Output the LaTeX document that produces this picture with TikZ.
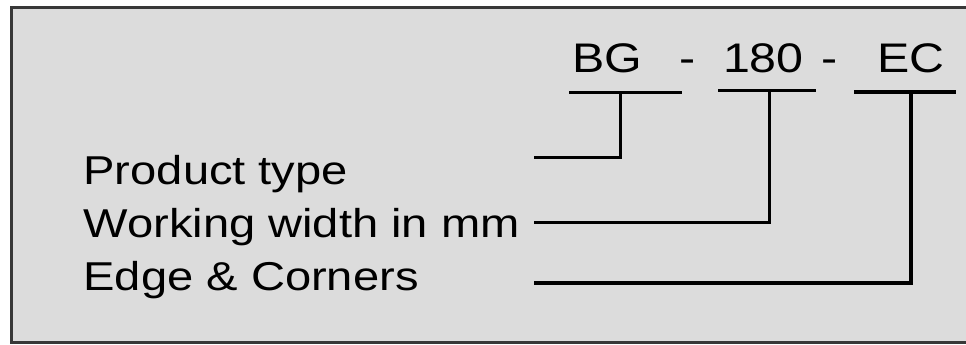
\documentclass[tikz,border=0pt]{standalone}
\usepackage{fontspec}
\setmainfont{Liberation Sans}[FakeStretch=1.17]

\begin{document}
\begin{tikzpicture}[x=0.75pt, y=-0.75pt, font=\fontsize{30.2}{36}\selectfont]
  \definecolor{panel}{HTML}{DCDCDC}
  \definecolor{rim}{HTML}{383838}
  \def\codes{
      bg/BG/572/569/682/93/620/158/2.25pt,
      mm/180/723/718/816/91/769/223/2.25pt,
      ec/EC/877/854/956/92/911/283/3pt
  }
  \useasboundingbox (0, 0) rectangle (966, 345);
  \fill [panel] (11.3, 7.3) rectangle (985, 342.5);
  \draw [rim, line width=2.1pt] (985, 7.3) -- (11.3, 7.3) -- (11.3, 342.5) -- (985, 342.5);

  \scoped [every node/.style={inner sep=0pt, outer sep=0pt, anchor=base west}] {
      \foreach \n/\t/\x/\l/\r/\u/\v/\e/\w in \codes {
          \node (\n) at (\x, 73) [font=\fontsize{31}{37}\selectfont] {\t};
          \coordinate (\n-l) at (\l, \u);
          \coordinate (\n-r) at (\r, \u);
          \coordinate (\n-t) at (\v, \u);
          \coordinate (\n-e) at (534, \e);
          \draw [line width=\w] (\n-l) -- (\n-r) (\n-t) |- (\n-e);
      }
      \node (dash1) at (679, 73) [font=\fontsize{31}{37}\selectfont] {-};
      \node (dash2) at (821, 73) [font=\fontsize{31}{37}\selectfont] {-};

      \node (prod) at (83.5, 185) {Product type};
      \node (width) at (83.5, 238) {Working width in mm};
      \node (edge) at (83.5, 290) {Edge \& Corners};
  }
\end{tikzpicture}
\end{document}
